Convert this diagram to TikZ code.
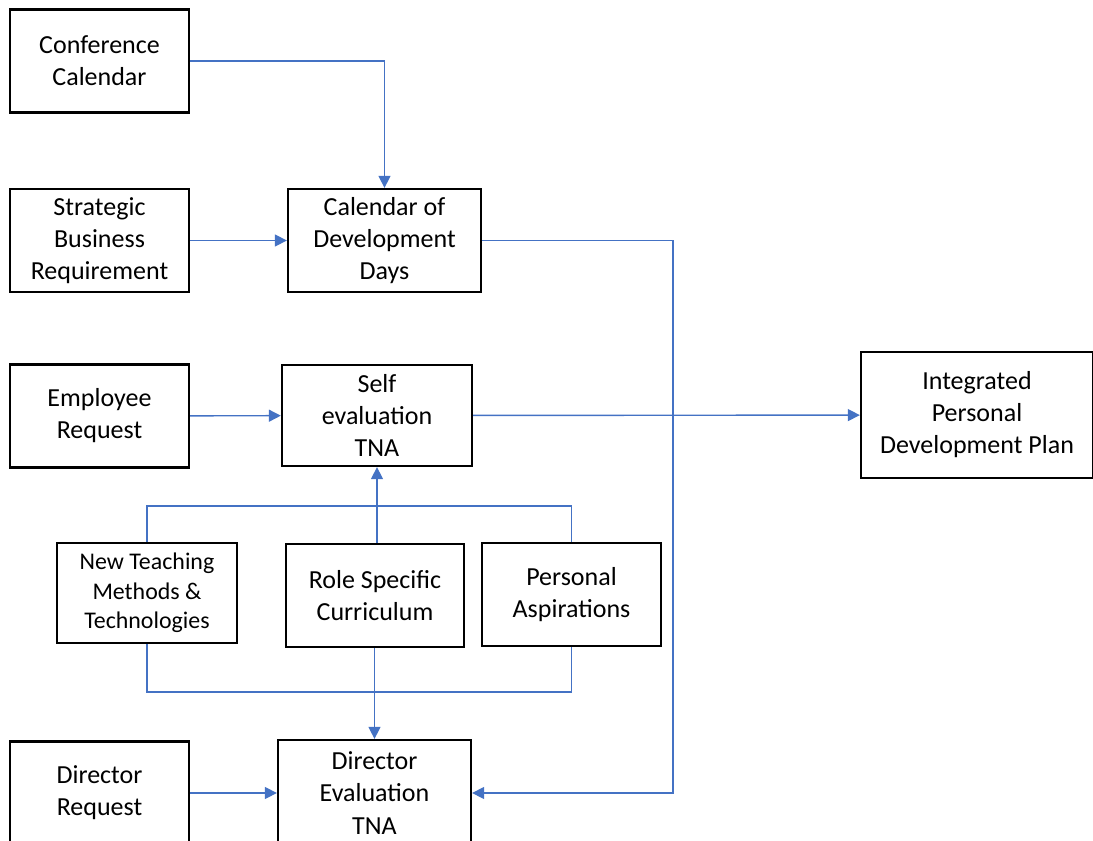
\documentclass[tikz,border=0pt]{standalone}
\usepackage{fontspec}
\setmainfont{Carlito}
\usetikzlibrary{arrows.meta,positioning}
\definecolor{linkblue}{HTML}{4472C4}

\begin{document}
\begin{tikzpicture}[x = 0.025cm, y = -0.025cm,
						box/.style = {rectangle, draw, line width = 1.6pt, align = center, minimum width = 4.475cm, minimum height = 2.575cm, inner sep = 1pt, font = \fontsize{18.5}{22.8}\selectfont},
						line/.style = {draw = linkblue, line width = 1pt},
						link/.style = {line, -{Triangle[length = 8.5pt, width = 8.5pt]}}]
		\clip (0,0) rectangle (1093,841);
		% Left column
		\node (conf) at (99.5,61) [box] {Conference\\Calendar};
		\node (strat) at (99.5,240.5) [box] {Strategic\\Business\\Requirement};
		\node (emp) at (99.5,416) [box] {Employee\\Request};
		\node (dirreq) at (99.5,793) [box] {Director\\Request};
		% Middle column
		\node (caldev) at (384.5,240.5) [box, minimum width = 4.825cm] {Calendar of\\Development\\Days};
		\node (self) at (377,415.5) [box, minimum width = 4.75cm, minimum height = 2.525cm] {Self\\evaluation\\TNA};
		\node (direval) at (374.5,793) [box, minimum width = 4.825cm, minimum height = 2.65cm] {Director\\Evaluation\\TNA};
		\node (newteach) at (147,593) [box, minimum width = 4.5cm, minimum height = 2.5cm, font = \fontsize{17}{20.8}\selectfont] {New Teaching\\Methods \&\\Technologies};
		\node (role) at (375,595.5) [box, minimum width = 4.45cm] {Role Specific\\Curriculum};
		\node (personal) at (571.5,594.5) [box] {Personal\\Aspirations};
		% Right
		\node (integ) at (977,415) [box, minimum width = 5.8cm, minimum height = 3.15cm] {Integrated\\Personal\\Development Plan};
		% Bus points
		\coordinate (rbus) at (673,0);
		\coordinate (topbus) at (377,506);
		\coordinate (botbus) at (377,692);
		% Connectors
		\draw [link] (conf.east) -| (caldev.north);
		\draw [link] (strat) -- (caldev);
		\draw [link] (caldev.east) -| (rbus |- direval) -- (direval);
		\draw [link] (emp) -- (self);
		\draw [link] (self) -- (integ);
		\draw [line] (newteach.north) |- (topbus) -| (personal.north);
		\draw [link] (self.south |- role.north) -- (self.south);
		\draw [line] (newteach.south) |- (botbus) -| (personal.south);
		\draw [link] (direval.north |- role.south) -- (direval.north);
		\draw [link] (dirreq) -- (direval);
	\end{tikzpicture}
\end{document}
